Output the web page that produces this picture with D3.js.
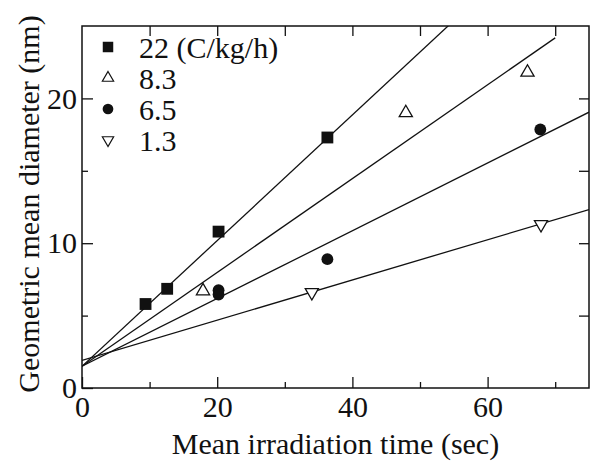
<!DOCTYPE html>
<html><head><meta charset="utf-8">
<script src="https://cdn.jsdelivr.net/npm/d3@7"></script>
<style>body{margin:0;background:#fff}svg{display:block}svg text{font-family:"Liberation Serif",serif !important;fill:#111}</style>
</head><body><svg id="c" width="597" height="461"></svg>
<script>
const seriesNames = ["22 (C/kg/h)", "8.3", "6.5", "1.3"];
const sqX = [9.4, 12.6, 20.2, 36.3];
const sqY = [5.8, 6.85, 10.8, 17.3];
const upX = [17.9, 47.9, 65.9];
const upY = [6.7, 19.0, 21.8];
const ciX = [20.2, 20.2, 36.3, 67.8];
const ciY = [6.75, 6.45, 8.9, 17.85];
const dnX = [34.0, 67.9];
const dnY = [6.6, 11.3];
const lineIntercept = [1.5, 1.5, 1.5, 1.9];
const lineSlope = [0.434, 0.324, 0.234, 0.139];
const lineXEnd = [75, 70, 75, 75];
const xTicks = [0, 20, 40, 60];
const yTicks = [0, 10, 20];

const FONT = '"Liberation Serif", serif';
const svg = d3.select("#c");
const m = {l: 82, r: 589, t: 26, b: 388};
const x = d3.scaleLinear().domain([0, 75]).range([m.l, m.r]);
const y = d3.scaleLinear().domain([0, 25]).range([m.b, m.t]);

svg.append("clipPath").attr("id", "clip").append("rect")
  .attr("x", m.l).attr("y", m.t).attr("width", m.r - m.l).attr("height", m.b - m.t);

// fitted lines
const g = svg.append("g").attr("clip-path", "url(#clip)");
lineIntercept.forEach((a, i) => {
  g.append("line")
    .attr("x1", x(0)).attr("y1", y(a))
    .attr("x2", x(lineXEnd[i])).attr("y2", y(a + lineSlope[i] * lineXEnd[i]))
    .attr("stroke", "#111").attr("stroke-width", 1.3);
});

// axes
const fs = 30;
const axBottom = d3.axisBottom(x).tickValues(xTicks).tickSize(-11).tickPadding(8).tickFormat(d3.format("d"));
const axBottomMinor = d3.axisBottom(x).tickValues([10, 30, 50, 70]).tickSize(-6).tickFormat("");
const axLeft = d3.axisLeft(y).tickValues(yTicks).tickSize(-11).tickPadding(5).tickFormat(d3.format("d"));
const axLeftMinor = d3.axisLeft(y).tickValues([5, 15]).tickSize(-6).tickFormat("");
const axTop = d3.axisTop(x).tickValues([10, 20, 30, 40, 50, 60, 70]).tickSize(-10).tickFormat("");
const axRight = d3.axisRight(y).tickValues([5, 10, 15, 20]).tickSize(-10).tickFormat("");

function style(sel) {
  sel.attr("font-family", FONT).attr("font-size", fs);
  sel.selectAll(".tick line").attr("stroke", "#111").attr("stroke-width", 1.3);
  sel.selectAll(".tick text").attr("font-size", fs).attr("font-family", FONT).attr("fill", "#111");
}
svg.append("g").attr("transform", `translate(0,${m.b})`).call(axBottom).call(style);
svg.append("g").attr("transform", `translate(0,${m.b})`).call(axBottomMinor).call(style);
svg.append("g").attr("transform", `translate(${m.l},0)`).call(axLeft).call(style);
svg.append("g").attr("transform", `translate(${m.l},0)`).call(axLeftMinor).call(style);
svg.append("g").attr("transform", `translate(0,${m.t})`).call(axTop).call(style);
svg.append("g").attr("transform", `translate(${m.r},0)`).call(axRight).call(style);
svg.selectAll(".domain").remove();
svg.append("rect").attr("x", m.l).attr("y", m.t).attr("width", m.r - m.l).attr("height", m.b - m.t)
  .attr("fill", "none").attr("stroke", "#111").attr("stroke-width", 1.5);

// markers
const sym = {
  sq: d3.symbol().type(d3.symbolSquare).size(140),
  up: d3.symbol().type(d3.symbolTriangle).size(75),
  ci: d3.symbol().type(d3.symbolCircle).size(110),
};
function drawPts(xs, ys, kind) {
  xs.forEach((xv, i) => {
    const p = svg.append("path").attr("transform", `translate(${x(xv)},${y(ys[i])})` + (kind === "dn" ? " rotate(180)" : ""));
    if (kind === "sq") p.attr("d", sym.sq()).attr("fill", "#111");
    else if (kind === "ci") p.attr("d", sym.ci()).attr("fill", "#111");
    else p.attr("d", sym.up()).attr("fill", "#fff").attr("stroke", "#111").attr("stroke-width", 1.3);
  });
}
drawPts(sqX, sqY, "sq");
drawPts(upX, upY, "up");
drawPts(ciX, ciY, "ci");
drawPts(dnX, dnY, "dn");

// legend
const kinds = ["sq", "up", "ci", "dn"];
const legSym = {
  sq: d3.symbol().type(d3.symbolSquare).size(110),
  up: d3.symbol().type(d3.symbolTriangle).size(55),
  ci: d3.symbol().type(d3.symbolCircle).size(90),
};
seriesNames.forEach((name, i) => {
  const cy = 47 + i * 31;
  const k = kinds[i];
  const p = svg.append("path").attr("transform", `translate(108,${cy})` + (k === "dn" ? " rotate(180)" : ""));
  if (k === "sq" || k === "ci") p.attr("d", legSym[k]()).attr("fill", "#111");
  else p.attr("d", legSym.up()).attr("fill", "#fff").attr("stroke", "#111").attr("stroke-width", 1.2);
  svg.append("text").attr("x", 139).attr("y", cy + 11).attr("font-family", FONT).attr("font-size", fs).text(name);
});

// titles
svg.append("text").attr("x", (m.l + m.r) / 2).attr("y", 454).attr("text-anchor", "middle")
  .attr("font-family", FONT).attr("font-size", 30).text("Mean irradiation time (sec)");
svg.append("text").attr("transform", `translate(39,${(m.t + m.b) / 2 - 3}) rotate(-90)`).attr("text-anchor", "middle")
  .attr("font-family", FONT).attr("font-size", 30).text("Geometric mean diameter (nm)");
</script></body></html>
